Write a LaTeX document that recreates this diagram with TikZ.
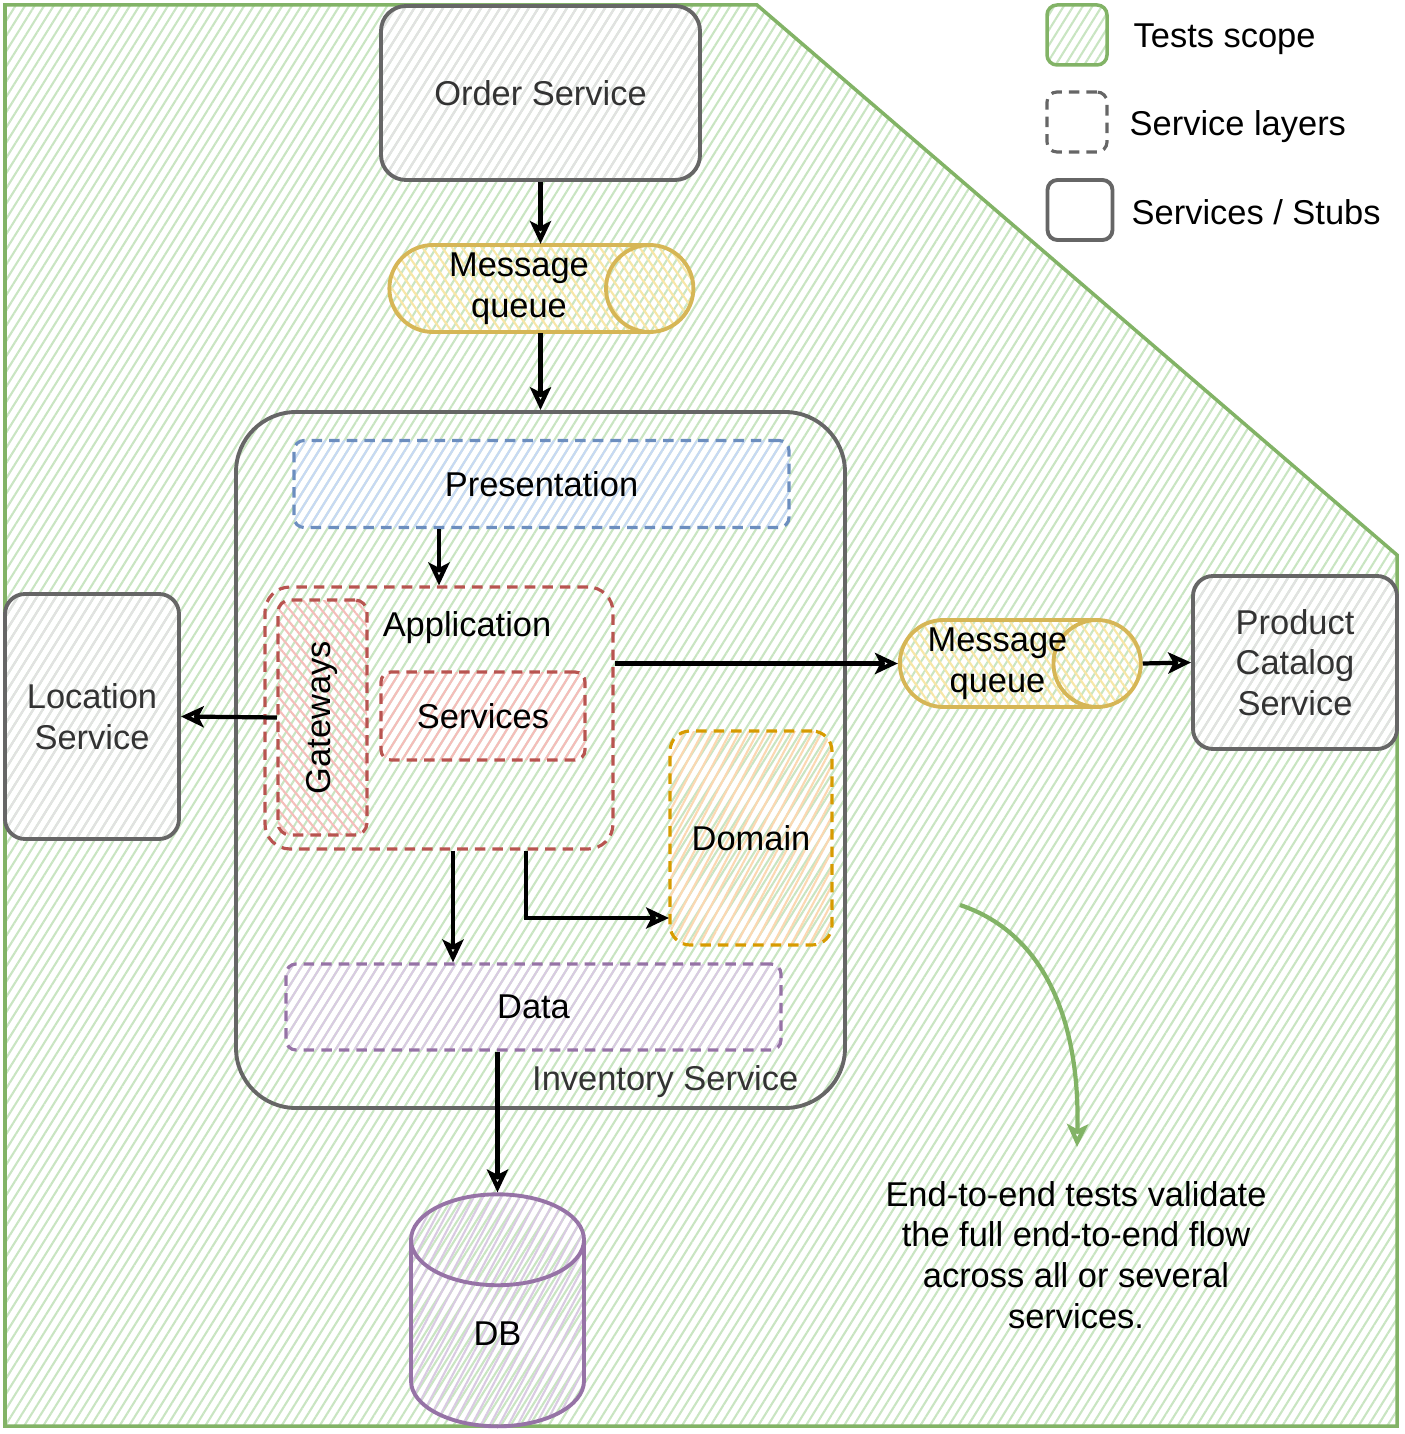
\documentclass[tikz,border=0pt]{standalone}
\usepackage{fontspec}
\setmainfont{Liberation Sans}
\usetikzlibrary{arrows.meta, patterns.meta, shapes.geometric}

\definecolor{scopegreen}{HTML}{82B366}
\definecolor{hatchgreen}{HTML}{C9E5C2}
\definecolor{svcgray}{HTML}{666666}
\definecolor{hatchgray}{HTML}{E2E2E2}
\definecolor{presblue}{HTML}{6C8EBF}
\definecolor{hatchblue}{HTML}{C7D9F4}
\definecolor{appred}{HTML}{B85450}
\definecolor{hatchred}{HTML}{F5BDBA}
\definecolor{domorange}{HTML}{D79B00}
\definecolor{hatchorange}{HTML}{FBD8B2}
\definecolor{datapurple}{HTML}{9673A6}
\definecolor{hatchpurple}{HTML}{D9CBE2}
\definecolor{queueyellow}{HTML}{D6B656}
\definecolor{hatchyellow}{HTML}{F8E6A6}
\definecolor{textgray}{HTML}{333333}

\tikzset{
  hatch/.style={pattern={Lines[angle=#1, distance=2.3pt, line width=0.6pt]}},
  scopearea/.style={draw=scopegreen, line width=1pt, hatch=58, pattern color=hatchgreen},
  svc/.style={draw=svcgray, line width=1.1pt, rounded corners=2.5mm, hatch=58,
    pattern color=hatchgray, inner sep=0pt, align=center, text=textgray},
  layer/.style={line width=0.9pt, dash pattern=on 3pt off 2pt, rounded corners=1mm,
    inner sep=0pt, align=center},
  queue/.style={cylinder, draw=queueyellow, line width=1.1pt, hatch=-55,
    pattern color=hatchyellow, inner sep=0pt, align=center, aspect=1.22},
  flow/.style={-{Stealth[open, length=6.5pt, width=6pt, inset=1.5pt]}, line width=1.2pt},
  legendtext/.style={anchor=west, inner sep=0pt}
}

\begin{document}
\begin{tikzpicture}[x=0.1mm, y=-0.1mm, font=\fontsize{9.8}{11.6}\selectfont]
\useasboundingbox (0, 0) rectangle (1404, 1434);

% tests scope
\draw[scopearea] (5, 5) -- (757, 5) -- (1397, 555) -- (1397, 1426) -- (5, 1426) -- cycle;

% legend
\node[draw=scopegreen, line width=1pt, rounded corners=1mm, hatch=58, pattern color=hatchgreen,
  minimum width=6mm, minimum height=6mm] (legscope) at (1077, 35) {};
\node[draw=svcgray, layer, minimum width=6mm, minimum height=6mm] (leglayer) at (1077, 122) {};
\node[draw=svcgray, line width=1.1pt, rounded corners=1mm, minimum width=6.5mm, minimum height=6mm] (legsvc) at (1080, 210) {};
\node[legendtext] (legscopetxt) at (1133, 39) {Tests scope};
\node[legendtext] (leglayertxt) at (1129, 127) {Service layers};
\node[legendtext] (legsvctxt) at (1131, 212) {Services / Stubs};

% services
\node[svc, minimum width=31.9mm, minimum height=17.4mm] (order) at (540.5, 93) {Order Service};
\node[queue, minimum width=8.7mm, minimum height=30.4mm] (mq1) at (519, 288.5) {Message\\queue};
\node[svc, rounded corners=6mm, pattern=none, minimum width=60.9mm, minimum height=69.6mm] (inv) at (540.5, 760) {};
\node[anchor=east, inner sep=0pt, text=textgray] (invtxt) at (799, 1082) {Inventory Service};
\node[svc, rounded corners=2mm, minimum width=17.4mm, minimum height=24.5mm] (loc) at (92, 716.5) {Location\\Service};
\node[queue, inner xsep=-1.6mm, minimum width=8.7mm, minimum height=24.1mm] (mq2) at (997.5, 663.5) {Message\\queue};
\node[svc, rounded corners=2mm, minimum width=20.4mm, minimum height=17.3mm] (pc) at (1295, 662.5) {Product\\Catalog\\Service};

% layers
\node[layer, draw=presblue, hatch=58, pattern color=hatchblue, minimum width=49.5mm, minimum height=8.7mm] (pres) at (541.5, 484) {Presentation};
\node[layer, draw=appred, rounded corners=2.5mm, minimum width=34.8mm, minimum height=26.2mm] (app) at (439, 718) {};
\node[inner sep=0pt] (apptxt) at (467, 628) {Application};
\node[layer, draw=appred, rounded corners=1.2mm, hatch=-50, pattern color=hatchred, minimum width=8.9mm, minimum height=23.5mm] (gw) at (322.5, 717.5) {\rotatebox{90}{Gateways}};
\node[layer, draw=appred, hatch=58, pattern color=hatchred, minimum width=20.4mm, minimum height=8.8mm] (srv) at (483, 716) {Services};
\node[layer, draw=domorange, rounded corners=2mm, hatch=62, pattern color=hatchorange, minimum width=16.2mm, minimum height=21.4mm] (dom) at (751, 838) {Domain};
\node[layer, draw=datapurple, hatch=58, pattern color=hatchpurple, minimum width=49.5mm, minimum height=8.6mm] (data) at (533.5, 1007) {Data};
\node[cylinder, shape border rotate=90, draw=datapurple, line width=1.1pt, hatch=62, pattern color=hatchpurple,
  aspect=1.9, minimum width=17.3mm, minimum height=23.2mm, inner sep=0pt] (db) at (497.5, 1334) {DB};

% flows
\draw[flow] (order.south) -- (order.south |- mq1.north);
\draw[flow] (mq1.south -| inv.north) -- (inv.north);
\draw[flow] (pres.south -| app.north) -- (app.north);
\draw[flow] (gw.west) -- (loc.east);
\draw[flow] (app.east |- mq2.west) -- (mq2.west);
\draw[flow] (mq2.east) -- (pc.west);
\draw[flow] ([xshift=1.4mm]app.south) -- ([xshift=1.4mm]app.south |- data.north);
\draw[flow] ([xshift=8.7mm]app.south) |- ([yshift=-8mm]dom.west);
\draw[flow] (data.south -| db.north) -- (db.north);

% note
\node[align=center, inner sep=0pt] (note) at (1076, 1255) {End-to-end tests validate\\the full end-to-end flow\\across all or several\\services.};
\coordinate (hint) at (960, 905);
\coordinate (hintend) at (1077, 1147);
\draw[flow, draw=scopegreen] (hint) .. controls (1050, 935) and (1080, 1030) .. (hintend);
\end{tikzpicture}
\end{document}
